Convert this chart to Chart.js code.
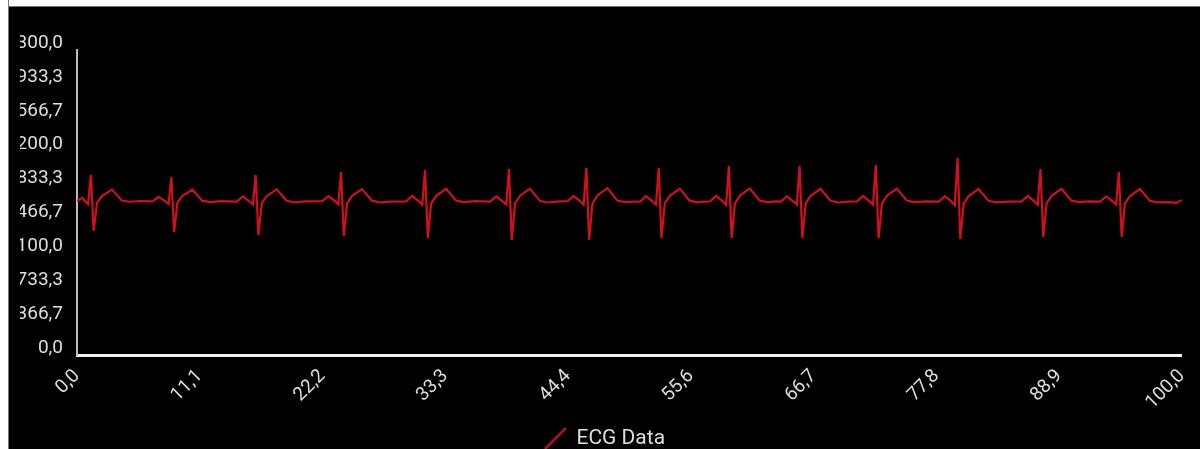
<!DOCTYPE html>
<html>
<head>
<meta charset="utf-8">
<script src="https://cdn.jsdelivr.net/npm/chart.js@4/dist/chart.umd.min.js"></script>
<style>
  html, body { margin: 0; padding: 0; background: #000; }
  .frame { position: relative; width: 1200px; height: 449px; overflow: hidden; background: #000; }
  #ecgChart { position: absolute; left: 0; top: 0; }
  .top-band { position: absolute; left: 0; top: 0; width: 1200px; height: 6px; background: #fff; border-bottom: 1px solid #777; }
  .left-band { position: absolute; left: 0; top: 0; width: 8px; height: 449px; background: #fff; border-right: 1px solid #777; }
  .left-crop { position: absolute; left: 9px; top: 7px; width: 10px; height: 442px; background: #000; }
</style>
</head>
<body>
<div class="frame">
  <canvas id="ecgChart" width="1200" height="459"></canvas>
  <div class="top-band"></div>
  <div class="left-band"></div>
  <div class="left-crop"></div>
</div>
<script>
// ECG samples (time axis 0..100)
const ecgTime = [
  0, 0.5, 0.75, 1.0, 1.26, 1.51, 1.81, 2.26, 3.16, 4.06, 4.76, 5.76,
  6.84, 7.39, 7.94, 8.29, 8.54, 8.79, 9.09, 9.54, 10.44, 11.34, 12.04, 13.04,
  14.47, 15.02, 15.57, 15.92, 16.17, 16.42, 16.72, 17.17, 18.07, 18.97, 19.67, 20.67,
  22.2, 22.75, 23.3, 23.65, 23.9, 24.15, 24.45, 24.9, 25.8, 26.7, 27.4, 28.4,
  29.8, 30.35, 30.9, 31.25, 31.5, 31.75, 32.05, 32.5, 33.4, 34.3, 35.0, 36.0,
  37.4, 37.95, 38.5, 38.85, 39.1, 39.35, 39.65, 40.1, 41.0, 41.9, 42.6, 43.6,
  44.4, 44.95, 45.5, 45.85, 46.1, 46.35, 46.65, 47.1, 48.0, 48.9, 49.6, 50.4,
  50.95, 51.5, 52.05, 52.4, 52.65, 52.9, 53.2, 53.65, 54.55, 55.45, 56.15, 56.9,
  57.3, 57.85, 58.4, 58.75, 59.0, 59.25, 59.55, 60.0, 60.9, 61.8, 62.5, 63.3,
  63.7, 64.25, 64.8, 65.15, 65.4, 65.65, 65.95, 66.4, 67.3, 68.2, 68.9, 69.9,
  70.6, 71.15, 71.7, 72.05, 72.3, 72.55, 72.85, 73.3, 74.2, 75.1, 75.8, 76.9,
  78.0, 78.55, 79.1, 79.45, 79.7, 79.95, 80.25, 80.7, 81.6, 82.5, 83.2, 84.4,
  85.5, 86.05, 86.6, 86.95, 87.2, 87.45, 87.75, 88.2, 89.1, 90.0, 90.7, 91.6,
  92.6, 93.15, 93.7, 94.05, 94.3, 94.55, 94.85, 95.3, 96.2, 97.1, 97.8, 98.8,
  99.5, 100
];

const ecgValue = [
  1668, 1700, 1660, 1632, 1948, 1342, 1645, 1720, 1790, 1672, 1658, 1666,
  1662, 1712, 1668, 1634, 1926, 1331, 1648, 1722, 1788, 1670, 1655, 1664,
  1660, 1715, 1665, 1628, 1948, 1298, 1642, 1718, 1792, 1668, 1652, 1662,
  1665, 1718, 1670, 1630, 1980, 1288, 1640, 1722, 1795, 1670, 1650, 1660,
  1662, 1720, 1668, 1626, 2002, 1266, 1638, 1720, 1798, 1672, 1655, 1664,
  1660, 1716, 1664, 1628, 2012, 1244, 1640, 1724, 1800, 1668, 1650, 1662,
  1664, 1722, 1668, 1625, 2023, 1244, 1636, 1726, 1805, 1672, 1654, 1660,
  1658, 1718, 1665, 1628, 2023, 1266, 1640, 1722, 1800, 1670, 1652, 1660,
  1662, 1720, 1668, 1624, 2045, 1266, 1638, 1725, 1802, 1670, 1655, 1663,
  1660, 1716, 1664, 1626, 2045, 1266, 1640, 1722, 1798, 1668, 1650, 1660,
  1662, 1720, 1666, 1625, 2056, 1266, 1638, 1724, 1800, 1672, 1655, 1662,
  1660, 1718, 1665, 1622, 2132, 1255, 1636, 1720, 1796, 1668, 1652, 1660,
  1662, 1720, 1668, 1626, 2012, 1277, 1640, 1722, 1798, 1670, 1655, 1662,
  1660, 1716, 1664, 1628, 1980, 1277, 1640, 1720, 1795, 1668, 1652, 1655,
  1645, 1675
];

const xTickValues = [0, 11.111, 22.222, 33.333, 44.444, 55.556, 66.667, 77.778, 88.889, 100];
const xTickLabels = ['0,0', '11,1', '22,2', '33,3', '44,4', '55,6', '66,7', '77,8', '88,9', '100,0'];

const yTickValues = [0, 366.667, 733.333, 1100, 1466.667, 1833.333, 2200, 2566.667, 2933.333, 3300];
const yTickLabels = ['0,0', '366,7', '733,3', '1100,0', '1466,7', '1833,3', '2200,0', '2566,7', '2933,3', '3300,0'];

const lineColor = 'rgb(208, 16, 28)';
const textColor = '#dedede';
const tickFont = { family: 'Roboto', size: 19 };

const chartCanvas = document.getElementById('ecgChart');

function buildPoints() {
  return ecgTime.map((t, i) => ({ x: t, y: ecgValue[i] }));
}

function setTicks(values) {
  return (scale) => {
    scale.ticks = values.map((v) => ({ value: v }));
  };
}

function tickLabel(values, labels) {
  return (value) => {
    const i = values.findIndex((v) => Math.abs(v - value) < 0.01);
    return i >= 0 ? labels[i] : '';
  };
}

const chart = new Chart(chartCanvas, {
  type: 'line',
  data: {
    datasets: [
      {
        label: 'ECG Data',
        data: buildPoints(),
        borderColor: lineColor,
        borderWidth: 2.2,
        tension: 0,
        pointRadius: 0,
        pointHoverRadius: 0,
        pointStyle: 'line',
        pointRotation: -45,
        pointBorderColor: 'rgb(165, 24, 34)',
        pointBorderWidth: 2.5,
      },
    ],
  },
  options: {
    responsive: false,
    animation: false,
    layout: {
      padding: { top: 50, left: 20, right: 10, bottom: 0 },
    },
    plugins: {
      tooltip: { enabled: false },
      legend: {
        position: 'bottom',
        labels: {
          color: textColor,
          usePointStyle: true,
          padding: 8,
          font: { family: 'Roboto', size: 21 },
        },
      },
    },
    scales: {
      x: {
        type: 'linear',
        min: 0,
        max: 100,
        afterBuildTicks: setTicks(xTickValues),
        afterFit: (scale) => { scale.height = 65; },
        grid: { display: false },
        border: { display: true, color: '#f2f2f2', width: 3 },
        ticks: {
          color: textColor,
          font: tickFont,
          autoSkip: false,
          minRotation: 45,
          maxRotation: 45,
          padding: 2,
          callback: tickLabel(xTickValues, xTickLabels),
        },
      },
      y: {
        min: 0,
        max: 3300,
        afterBuildTicks: setTicks(yTickValues),
        afterFit: (scale) => { scale.width = 57; },
        grid: { display: false },
        border: { display: true, color: '#bdbdbd', width: 2 },
        ticks: {
          color: textColor,
          font: tickFont,
          padding: 6,
          labelOffset: -7,
          callback: tickLabel(yTickValues, yTickLabels),
        },
      },
    },
  },
});
</script>
</body>
</html>
